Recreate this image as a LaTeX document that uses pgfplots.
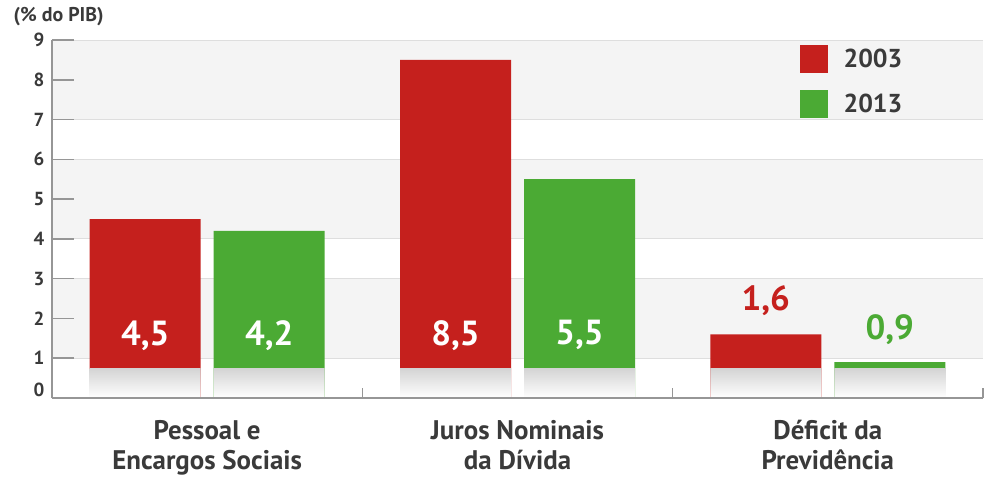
\documentclass[border=0pt]{standalone}
\usepackage{fontspec}
\setmainfont{PT Sans}
\usepackage{pgfplots}
\pgfplotsset{compat=1.18}
\definecolor{cred}{RGB}{197,32,29}
\definecolor{cgreen}{RGB}{75,170,52}
\definecolor{ctext}{RGB}{58,58,58}
\definecolor{cband}{RGB}{244,244,244}
\definecolor{cgrid}{RGB}{222,222,222}
\definecolor{caxis}{RGB}{150,150,150}
\newcommand{\ticfont}{\fontsize{19}{21}\selectfont\bfseries}
\newcommand{\catfont}{\fontsize{27}{30}\selectfont\bfseries}
\newcommand{\valfont}{\fontsize{35}{38}\selectfont\bfseries}
\newcommand{\legfont}{\fontsize{26}{28}\selectfont\bfseries}
\newcommand{\unitfont}{\fontsize{20}{22}\selectfont\bfseries}
\begin{document}
\begin{tikzpicture}
\useasboundingbox (-52bp,-92bp) rectangle (948bp,398bp);
\begin{axis}[
  at={(0,0)}, anchor=south west,
  scale only axis, width=931bp, height=358bp,
  xmin=-0.5, xmax=2.5, ymin=0, ymax=9,
  clip=false, axis on top,
  ybar=0pt, bar width=111bp,
  axis lines*=left,
  axis line style={caxis, line width=1.6bp},
  tick align=inside,
  major tick length=22bp,
  ytick={1,2,...,9},
  yticklabels={1,2,3,4,5,6,7,8,9},
  extra y ticks={0},
  extra y tick labels={0},
  extra y tick style={yticklabel style={yshift=8bp}},
  ytick style={caxis, line width=1.6bp},
  xtick={0,1,2},
  xtick style={draw=none},
  xticklabels={{Pessoal e\\Encargos Sociais},{Juros Nominais\\da Dívida},{Déficit da\\Previdência}},
  xticklabel style={align=center, font=\catfont, text=ctext, yshift=-19bp},
  yticklabel style={font=\ticfont, text=ctext, xshift=-4bp},
  legend image code/.code={\fill[#1] (0bp,-14bp) rectangle (28bp,14bp);},
  legend style={draw=none, fill=none, inner sep=0pt, outer sep=0pt,
    at={(rel axis cs:0.803,0.986)}, anchor=north west,
    font=\legfont, text=ctext, row sep=17bp,
    nodes={inner sep=0pt},
    /tikz/every odd column/.append style={column sep=16bp}},
  legend cell align=left,
]
% background bands
\fill[cband] (axis cs:-0.5,7) rectangle (axis cs:2.5,9);
\fill[cband] (axis cs:-0.5,4) rectangle (axis cs:2.5,6);
\fill[cband] (axis cs:-0.5,1) rectangle (axis cs:2.5,3);
\pgfplotsinvokeforeach{1,3,4,6,7,9}{
  \draw[cgrid, line width=1bp] (axis cs:-0.5,#1) -- (axis cs:2.5,#1);
}
% bars
\addplot[fill=cred, draw=none, bar shift=-62bp] coordinates {(0,4.5) (1,8.5) (2,1.6)};
\addlegendentry{2003}
\addplot[fill=cgreen, draw=none, bar shift=62bp] coordinates {(0,4.2) (1,5.5) (2,0.9)};
\addlegendentry{2013}
% reflections
\addplot[draw=none, top color=black!17, bottom color=white, bar shift=-62bp, forget plot] coordinates {(0,0.75) (1,0.75) (2,0.75)};
\addplot[draw=none, top color=black!17, bottom color=white, bar shift=62bp, forget plot] coordinates {(0,0.75) (1,0.75) (2,0.75)};
% group separators
\pgfplotsinvokeforeach{0.5,1.5,2.5}{
  \draw[caxis, line width=1.6bp] (axis cs:#1,0) -- ([yshift=10bp]axis cs:#1,0);
}
% value labels
\node[font=\valfont, text=white, xshift=-62bp] at (axis cs:0,1.575) {4,5};
\node[font=\valfont, text=white, xshift=62bp] at (axis cs:0,1.575) {4,2};
\node[font=\valfont, text=white, xshift=-62bp] at (axis cs:1,1.575) {8,5};
\node[font=\valfont, text=white, xshift=62bp] at (axis cs:1,1.575) {5,5};
\node[font=\valfont, text=cred, xshift=-62bp] at (axis cs:2,2.45) {1,6};
\node[font=\valfont, text=cgreen, xshift=62bp] at (axis cs:2,1.73) {0,9};
% unit
\node[anchor=west, font=\unitfont, text=ctext, xshift=-42bp, yshift=23bp] at (rel axis cs:0,1) {(\% do PIB)};
\end{axis}
\end{tikzpicture}
\end{document}
